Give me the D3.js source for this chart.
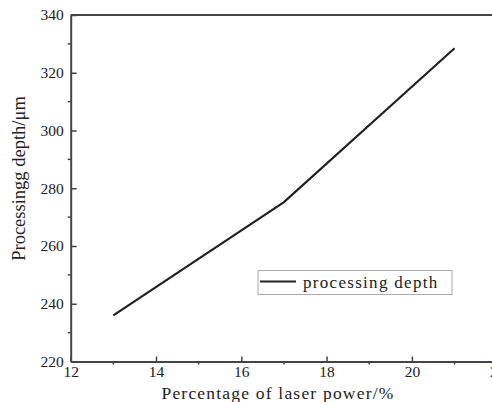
<!DOCTYPE html>
<html>
<head>
<meta charset="utf-8">
<script src="https://cdn.jsdelivr.net/npm/d3@7"></script>
<style>
  html, body { margin: 0; padding: 0; background: #fff; }
  svg { display: block; }
  svg text { font-family: "Liberation Serif", "DejaVu Serif", serif !important; fill: #222; }
</style>
</head>
<body>
<svg id="chart" width="492" height="402"></svg>
<script>
const powerPercent = [13, 17, 21];
const processingDepth = [236, 275.2, 328.5];
const xTicks = [12, 14, 16, 18, 20, 22];
const xMinorTicks = [13, 15, 17, 19, 21];
const yTicks = [220, 240, 260, 280, 300, 320, 340];
const yMinorTicks = [230, 250, 270, 290, 310, 330];
const seriesName = "processing depth";
const xTitle = "Percentage of laser power/%";
const yTitle = "Processingg depth/\u03bcm";

(function () {
const svg = d3.select("#chart");
const mLeft = 70.7, mTop = 15, mBottom = 361.5;
const x = d3.scaleLinear().domain([12, 22]).range([mLeft, mLeft + 5 * 85.3]);
const y = d3.scaleLinear().domain([220, 340]).range([mBottom, mTop]);
const axisColor = "#444";
const serif = "'Liberation Serif', 'DejaVu Serif', serif";

// frame top / right
svg.append("line").attr("x1", mLeft).attr("x2", 492).attr("y1", mTop).attr("y2", mTop)
  .attr("stroke", axisColor).attr("stroke-width", 2);
svg.append("line").attr("x1", x(22)).attr("x2", x(22)).attr("y1", mTop).attr("y2", mBottom)
  .attr("stroke", axisColor).attr("stroke-width", 2);

// x axis
const gx = svg.append("g").attr("transform", `translate(0,${mBottom})`);
gx.call(d3.axisBottom(x).tickValues(xTicks).tickSizeInner(-5).tickSizeOuter(0).tickPadding(4).tickFormat(d3.format("d")));
gx.attr("font-family", serif);
gx.select(".domain").attr("stroke", axisColor).attr("stroke-width", 2);
gx.selectAll(".tick line").attr("stroke", axisColor).attr("stroke-width", 1.5);
gx.selectAll(".tick text").attr("font-size", 15.5).attr("fill", "#222");
gx.selectAll(".minor").data(xMinorTicks).enter().append("line")
  .attr("x1", d => x(d)).attr("x2", d => x(d)).attr("y1", 0).attr("y2", 3)
  .attr("stroke", axisColor).attr("stroke-width", 1.5);

// y axis
const gy = svg.append("g").attr("transform", `translate(${mLeft},0)`);
gy.call(d3.axisLeft(y).tickValues(yTicks).tickSizeInner(-6).tickSizeOuter(0).tickPadding(7).tickFormat(d3.format("d")));
gy.attr("font-family", serif);
gy.select(".domain").attr("stroke", axisColor).attr("stroke-width", 2);
gy.selectAll(".tick line").attr("stroke", axisColor).attr("stroke-width", 1.5);
gy.selectAll(".tick text").attr("font-size", 15.5).attr("fill", "#222");
gy.selectAll(".minor").data(yMinorTicks).enter().append("line")
  .attr("x1", -3).attr("x2", 0).attr("y1", d => y(d)).attr("y2", d => y(d))
  .attr("stroke", axisColor).attr("stroke-width", 1.5);

// line
const pts = powerPercent.map((p, i) => [p, processingDepth[i]]);
svg.append("path").datum(pts)
  .attr("fill", "none").attr("stroke", "#222").attr("stroke-width", 2.2)
  .attr("d", d3.line().x(d => x(d[0])).y(d => y(d[1])));

// legend
const lg = svg.append("g");
lg.append("rect").attr("x", 258).attr("y", 270.5).attr("width", 194).attr("height", 24)
  .attr("fill", "#fff").attr("stroke", "#aaa").attr("stroke-width", 1);
lg.append("line").attr("x1", 260).attr("x2", 296).attr("y1", 281.5).attr("y2", 281.5)
  .attr("stroke", "#222").attr("stroke-width", 2.2);
lg.append("text").attr("x", 303).attr("y", 288).attr("font-size", 17).attr("font-family", serif)
  .attr("letter-spacing", 1.3).text(seriesName);

// titles
svg.append("text").attr("x", 278).attr("y", 399).attr("text-anchor", "middle").attr("font-family", serif)
  .attr("font-size", 17.5).attr("letter-spacing", 1.2).text(xTitle);
svg.append("text").attr("transform", "translate(25,178.5) rotate(-90)").attr("text-anchor", "middle").attr("font-family", serif)
  .attr("font-size", 18.5).text(yTitle);
})();
</script>
</body>
</html>
